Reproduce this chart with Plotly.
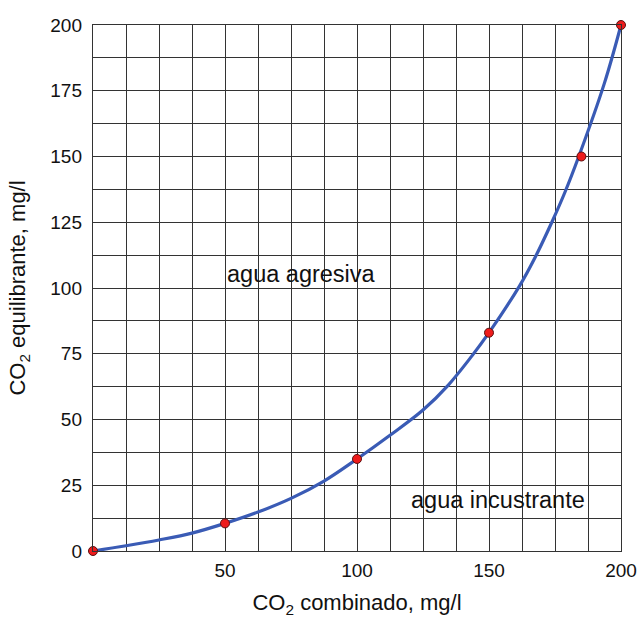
import plotly.graph_objects as go

# measured points (red markers)
pts_x = [0, 50, 100, 150, 185, 200]
pts_y = [0, 10.5, 35, 83, 150, 200]

# curve
curve_x = [0, 12.5, 25, 37.5, 50, 62.5, 75, 87.5, 100, 112.5, 125, 134.5, 143.4, 150,
           161.7, 167.4, 173.8, 178.8, 184, 193.75, 200]
curve_y = [0, 2, 4.2, 6.8, 10.5, 14.8, 20, 26.6, 35, 44, 53.6, 63, 74, 83,
           101, 111.5, 125, 136.5, 150, 178, 200]

grid_vals = [i * 12.5 for i in range(17)]
x_labels = [str(int(v)) if v % 50 == 0 and v > 0 else "" for v in grid_vals]
y_labels = [str(int(v)) if v % 25 == 0 else "" for v in grid_vals]

font = "Liberation Sans, Arial, sans-serif"
grid_col = "#333333"

fig = go.Figure()
fig.add_trace(go.Scatter(x=curve_x, y=curve_y, mode="lines",
                         line=dict(color="#3a5bb5", width=3.2, shape="spline", smoothing=1),
                         cliponaxis=False, hoverinfo="skip"))
fig.add_trace(go.Scatter(x=pts_x, y=pts_y, mode="markers",
                         marker=dict(color="#ee1c1c", size=9, line=dict(color="#5a1010", width=1)),
                         cliponaxis=False))

fig.add_annotation(x=79, y=105.5, text="agua agresiva", showarrow=False,
                   font=dict(size=23.5, color="#111111", family=font))
fig.add_annotation(x=153.5, y=19.5, text="agua incustrante", showarrow=False,
                   font=dict(size=23.5, color="#111111", family=font))

axis_common = dict(range=[0, 200], tickvals=grid_vals, showgrid=True, gridcolor=grid_col,
                   gridwidth=1.4, zeroline=False, showline=True, linecolor=grid_col,
                   linewidth=1.4, mirror=True, ticks="", automargin=False,
                   tickfont=dict(size=19, color="#111111", family=font))

fig.update_layout(
    width=637, height=618,
    margin=dict(l=93, r=16, t=25, b=67),
    paper_bgcolor="white", plot_bgcolor="white",
    showlegend=False,
    font=dict(family=font, color="#111111"),
    xaxis=dict(axis_common, ticktext=x_labels, ticklabelstandoff=2,
               title=dict(text="CO<sub>2</sub> combinado, mg/l", font=dict(size=22), standoff=18)),
    yaxis=dict(axis_common, ticktext=y_labels, ticklabelstandoff=6,
               title=dict(text="CO<sub>2</sub> equilibrante, mg/l", font=dict(size=22), standoff=18)),
)

# drop the default page margin so the figure sits at the window's corner
fig.write_html("out.html", config={"displayModeBar": False},
               post_script="document.body.style.margin='0';document.body.style.overflow='hidden';")
